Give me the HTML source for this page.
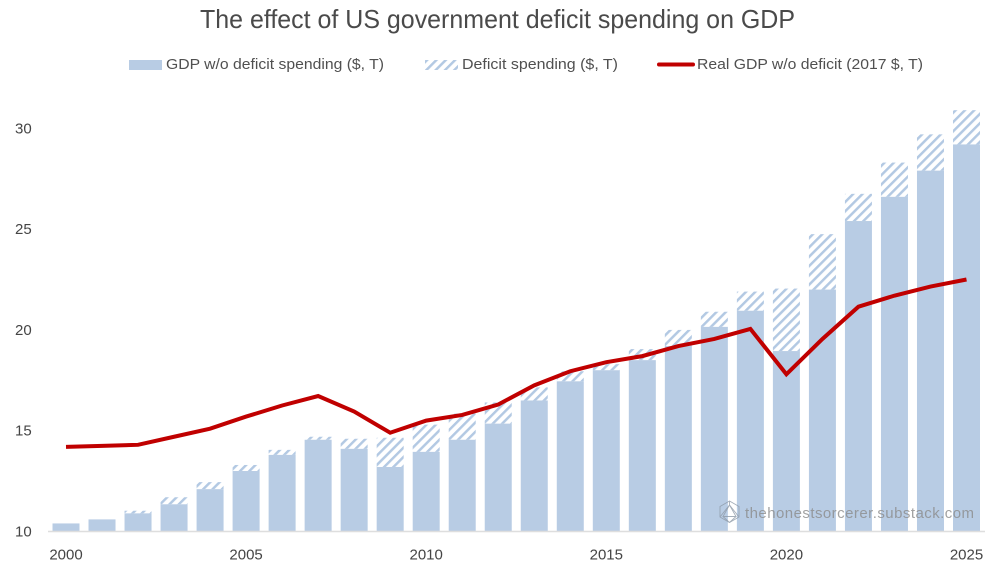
<!DOCTYPE html>
<html>
<head>
<meta charset="utf-8">
<title>The effect of US government deficit spending on GDP</title>
<style>
html,body{margin:0;padding:0;background:#fff;width:1000px;height:570px;overflow:hidden}
svg{display:block}
text{font-family:"Liberation Sans",sans-serif}
</style>
</head>
<body>
<svg id="chart" xmlns="http://www.w3.org/2000/svg" width="1000" height="570" viewBox="0 0 1000 570">
<defs>
<pattern id="hatch" patternUnits="userSpaceOnUse" width="6.6" height="6.6" patternTransform="rotate(45)">
<rect x="0" y="0" width="2.5" height="6.6" fill="#b3c9e3"></rect>
</pattern>
</defs>
<rect width="1000" height="570" fill="#ffffff"></rect>
<text x="200" y="28" font-size="26" fill="#4a4a4a" textLength="595" lengthAdjust="spacingAndGlyphs">The effect of US government deficit spending on GDP</text>
<g>
<g>
<rect x="129" y="60" width="33" height="10" fill="#b8cce4"></rect>
<text x="166" y="69" font-size="15" fill="#505050" textLength="218" lengthAdjust="spacingAndGlyphs">GDP w/o deficit spending ($, T)</text>
</g>
<g>
<rect x="425" y="60" width="33" height="10" fill="url(#hatch)"></rect>
<text x="462" y="69" font-size="15" fill="#505050" textLength="156" lengthAdjust="spacingAndGlyphs">Deficit spending  ($, T)</text>
</g>
<g>
<line x1="659" y1="64.5" x2="693" y2="64.5" stroke="#c00000" stroke-width="4" stroke-linecap="round"></line>
<text x="697" y="69" font-size="15" fill="#505050" textLength="226" lengthAdjust="spacingAndGlyphs">Real GDP w/o deficit  (2017 $, T)</text>
</g>
</g>
<g id="bars"></g>
<line x1="48" y1="531.5" x2="985" y2="531.5" stroke="#dedede" stroke-width="1.5"></line>
<g id="yticks"></g>
<g id="xticks"></g>
<polyline id="line" fill="none" stroke="#c00000" stroke-width="4" stroke-linejoin="miter"></polyline>
<g opacity="0.8">
<g fill="none" stroke="#8e9aa8" stroke-width="0.9">
<polygon points="729.5,501 739,506.5 739,517 729.5,522.5 720,517 720,506.5"></polygon>
<polygon points="729.5,505 736,516.5 723,516.5"></polygon>
<line x1="729.5" y1="501" x2="729.5" y2="505"></line>
<line x1="729.5" y1="505" x2="739" y2="517"></line>
<line x1="729.5" y1="505" x2="720" y2="517"></line>
<line x1="723" y1="516.5" x2="729.5" y2="522.5"></line>
<line x1="736" y1="516.5" x2="729.5" y2="522.5"></line>
</g>
<text x="745" y="518" font-size="15" fill="#8c8c8c" textLength="229" lengthAdjust="spacing">thehonestsorcerer.substack.com</text>
</g>
</svg>
<script>
const years = [2000,2001,2002,2003,2004,2005,2006,2007,2008,2009,2010,2011,2012,2013,2014,2015,2016,2017,2018,2019,2020,2021,2022,2023,2024,2025];
const gdpWithoutDeficit = [10.4,10.6,10.9,11.35,12.1,13.0,13.8,14.55,14.1,13.2,13.95,14.55,15.35,16.5,17.45,18.0,18.5,19.2,20.15,20.95,18.95,22.0,25.4,26.6,27.9,29.2];
const deficitSpending = [0,0,0.13,0.35,0.35,0.3,0.25,0.15,0.5,1.45,1.35,1.3,1.05,0.65,0.5,0.3,0.55,0.8,0.75,0.95,3.1,2.75,1.35,1.7,1.8,1.7];
const realGdpWithoutDeficit = [14.2,14.25,14.3,14.7,15.1,15.7,16.25,16.72,15.95,14.9,15.5,15.78,16.3,17.25,17.95,18.4,18.7,19.2,19.55,20.05,17.8,19.55,21.15,21.7,22.15,22.5];
const yTickLabels = [10,15,20,25,30];
const xTickLabels = [2000,2005,2010,2015,2020,2025];

const NS = 'http://www.w3.org/2000/svg';
const xScale = function (year) { return 66 + (year - 2000) * 36.02; };
const yScale = function (value) { return 531.5 - (value - 10) * 20.16; };
const barWidth = 27;

const barsGroup = document.getElementById('bars');
years.forEach(function (year, i) {
  const base = gdpWithoutDeficit[i];
  const total = base + deficitSpending[i];
  const solid = document.createElementNS(NS, 'rect');
  
  
  solid.setAttribute('x', xScale(year) - barWidth / 2);
  solid.setAttribute('y', yScale(base));
  solid.setAttribute('width', barWidth);
  solid.setAttribute('height', yScale(10) - yScale(base));
  solid.setAttribute('fill', '#b8cce4');
  barsGroup.appendChild(solid);
  if (deficitSpending[i] > 0) {
    const hatch = document.createElementNS(NS, 'rect');
    
    
    hatch.setAttribute('x', xScale(year) - barWidth / 2);
    hatch.setAttribute('y', yScale(total));
    hatch.setAttribute('width', barWidth);
    hatch.setAttribute('height', yScale(base) - yScale(total));
    hatch.setAttribute('fill', 'url(#hatch)');
    barsGroup.appendChild(hatch);
  }
});

const yGroup = document.getElementById('yticks');
yTickLabels.forEach(function (value) {
  const t = document.createElementNS(NS, 'text');
  
  
  t.setAttribute('x', 15);
  t.setAttribute('y', yScale(value) + 5);
  t.setAttribute('font-size', '15');
  t.setAttribute('fill', '#454545');
  t.textContent = value;
  yGroup.appendChild(t);
});

const xGroup = document.getElementById('xticks');
xTickLabels.forEach(function (year) {
  const t = document.createElementNS(NS, 'text');
  
  
  t.setAttribute('x', xScale(year));
  t.setAttribute('y', 559.5);
  t.setAttribute('font-size', '15');
  t.setAttribute('text-anchor', 'middle');
  t.setAttribute('fill', '#454545');
  t.textContent = year;
  xGroup.appendChild(t);
});

document.getElementById('line').setAttribute('points', years.map(function (year, i) {
  return xScale(year) + ',' + yScale(realGdpWithoutDeficit[i]);
}).join(' '));
</script>
</body>
</html>
